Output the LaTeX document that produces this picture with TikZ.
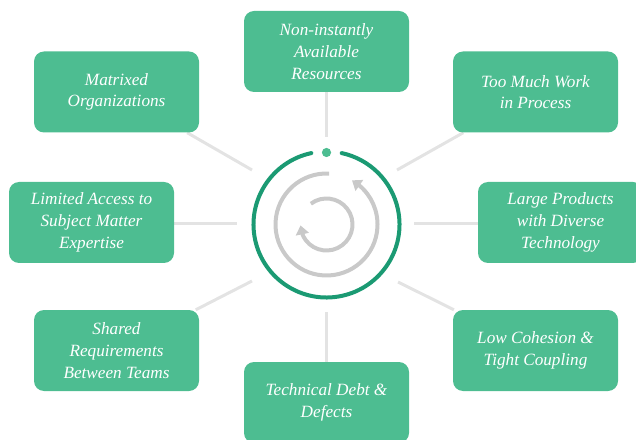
\documentclass[tikz,border=0pt]{standalone}
\usepackage{fontspec}
\setmainfont{Liberation Serif}
\usetikzlibrary{arrows.meta,bending,backgrounds}
\definecolor{boxgreen}{RGB}{77,189,145}
\definecolor{ringgreen}{RGB}{27,154,115}
\definecolor{arcgray}{RGB}{201,201,201}
\definecolor{linegray}{RGB}{227,227,227}
\tikzset{
  issue/.style={rectangle, rounded corners=10pt, fill=boxgreen, text=white,
    minimum width=165pt, minimum height=81pt, inner sep=0pt, align=center,
    font=\fontsize{17.2}{21.7}\selectfont\itshape},
  spoke/.style={draw=linegray, line width=3pt},
  ring/.style={draw=ringgreen, line width=4pt, line cap=round},
  cyc/.style={draw=arcgray, line width=4pt}
}
\begin{document}
\begin{tikzpicture}[x=1pt,y=1pt]
\useasboundingbox (0,0) rectangle (636,439);
\clip (0,0) rectangle (636,439);
% nodes (y = 439 - pixel y)
\node[issue] (top)   at (326.5,387.5) {Non-instantly\\Available\\Resources};
\node[issue] (mat)   at (116.5,347)   {Matrixed\\Organizations};
\node[issue] (wip)   at (535.5,347)   {Too Much Work\\in Process};
\node[issue] (lim)   at (91.5,216.5)  {Limited Access to\\Subject Matter\\Expertise};
\node[issue] (large) at (560.5,216.5) {Large Products\\with Diverse\\Technology};
\node[issue] (shared) at (116.5,88.5) {Shared\\Requirements\\Between Teams};
\node[issue] (low)   at (535.5,88.5)  {Low Cohesion \&\\Tight Coupling};
\node[issue] (debt)  at (326.5,36.5)  {Technical Debt \&\\Defects};
% centre
\coordinate (c) at (326.5,214.5);
\coordinate (ctop) at (326.5,302);
\coordinate (cbot) at (326.5,127);
\coordinate (cleft) at (237,215);
\coordinate (cright) at (414,215);
\coordinate (cul) at (252,269);
\coordinate (cur) at (397,269);
\coordinate (cll) at (252,158);
\coordinate (clr) at (398,157);
\begin{scope}[on background layer]
\draw[spoke] (ctop) -- (ctop |- top.south);
\draw[spoke] (cbot) -- (cbot |- debt.north);
\draw[spoke] (cleft) -- (cleft -| lim.east);
\draw[spoke] (cright) -- (cright -| large.west);
\draw[spoke] (cul) -- (mat);
\draw[spoke] (cur) -- (wip);
\draw[spoke] (cll) -- (shared);
\draw[spoke] (clr) -- (low);
\end{scope}
% ring
\draw[ring] ([shift={(102:73)}]c) arc[start angle=102, end angle=438, radius=73];
\fill[boxgreen] (326.5,286.5) circle (4.6);
% cycle arrows
\draw[cyc, -{Triangle[length=9pt,width=13pt,flex]}] ([shift={(87:51)}]c) arc[start angle=87, end angle=420, radius=51];
\draw[cyc, -{Triangle[length=9pt,width=13pt,flex]}] ([shift={(127:26)}]c) arc[start angle=127, end angle=-178, radius=26];
\end{tikzpicture}
\end{document}
